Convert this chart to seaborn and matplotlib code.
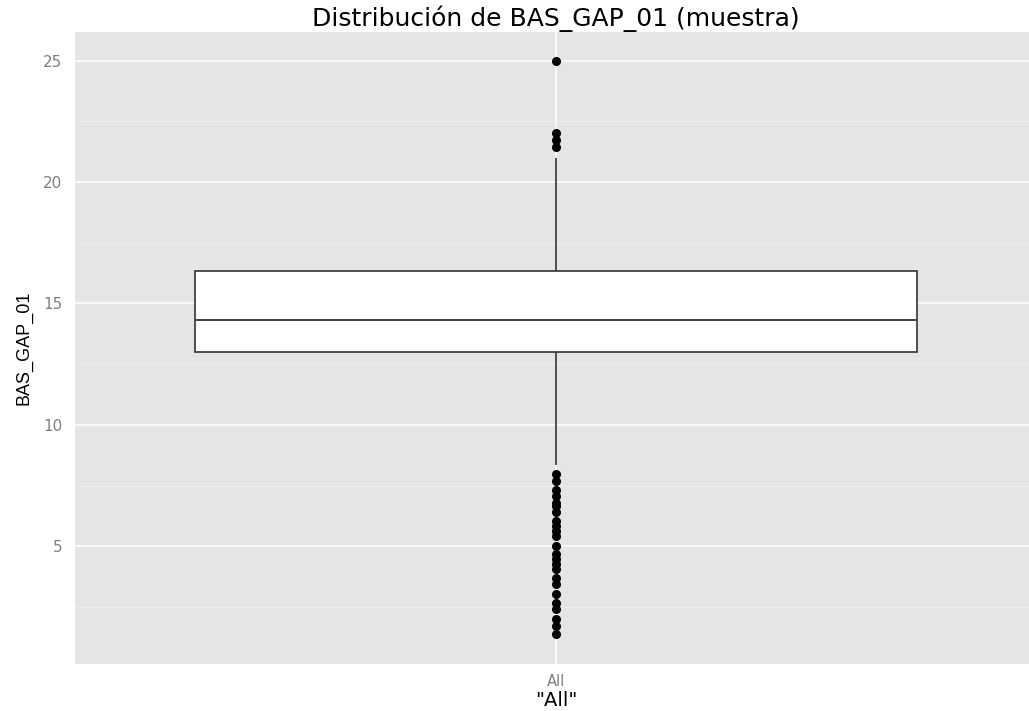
import numpy as np
import pandas as pd
import matplotlib
matplotlib.use("Agg")
import matplotlib.pyplot as plt
import seaborn as sns
from matplotlib.ticker import MultipleLocator

# ---- data (sample values, as a frequency table) ----
low_outliers = [7.97, 7.69, 7.32, 7.07, 6.80, 6.66, 6.39, 6.04, 5.84, 5.63, 5.42, 5.01,
                4.67, 4.47, 4.26, 4.05, 3.71, 3.44, 3.02, 2.68, 2.41, 2.00, 1.72, 1.38]
high_outliers = [21.46, 21.75, 22.02, 25.0]
body_values = [8.33, 9.33, 10.33, 11.33, 12.0, 12.67, 13.0, 13.33, 13.67, 14.0, 14.33,
               14.67, 15.0, 15.33, 15.67, 16.0, 16.33, 16.67, 17.0, 17.33, 17.67, 18.0,
               18.67, 19.33, 20.0, 20.67, 21.0]
body_counts = [1, 1, 1, 1, 2, 3, 10, 8, 10, 12, 14,
               7, 7, 7, 6, 5, 10, 6, 5, 4, 3, 3,
               2, 2, 1, 1, 1]
category = "All"
y_ticks = [5, 10, 15, 20, 25]

values = list(low_outliers) + list(np.repeat(body_values, body_counts)) + list(high_outliers)
df = pd.DataFrame({"grupo": [category] * len(values), "BAS_GAP_01": values})

# ---- figure ----
sns.set_theme(style="darkgrid")
plt.rcParams["font.family"] = ["DejaVu Sans"]

fig = plt.figure(figsize=(10.29, 7.11), dpi=100)
ax = fig.add_axes([75 / 1029, (711 - 664) / 711, (1037 - 75) / 1029, (664 - 32) / 711])
ax.set_facecolor("#E5E5E5")

line_col = "#333333"
sns.boxplot(data=df, x="grupo", y="BAS_GAP_01", ax=ax, width=0.9,
            color="white", linecolor=line_col, linewidth=1.2,
            showcaps=False,
            flierprops=dict(marker="o", markerfacecolor="black", markeredgecolor="black",
                            markersize=5.5),
            medianprops=dict(color=line_col, linewidth=1.3),
            whiskerprops=dict(color=line_col, linewidth=1.2))

ax.set_xlim(-0.6, 0.6)
ax.set_ylim(0.15, 26.18)
ax.set_yticks(y_ticks)
ax.yaxis.set_minor_locator(MultipleLocator(2.5))

ax.grid(True, which="major", color="white", linewidth=1.1)
ax.grid(True, which="minor", axis="y", color="#F2F2F2", linewidth=0.5)
ax.set_axisbelow(True)
for s in ax.spines.values():
    s.set_visible(False)

ax.tick_params(axis="both", which="major", length=5, width=0.8, color="#7F7F7F",
               labelcolor="#7F7F7F", pad=4)
ax.tick_params(axis="y", labelsize=11)
ax.tick_params(axis="x", labelsize=10.5, pad=2)
ax.tick_params(which="minor", length=0)

ax.set_ylabel("BAS_GAP_01", fontsize=13, color="black", family=["Liberation Sans"])
ax.yaxis.set_label_coords(-0.0437, 0.5)
ax.set_xlabel('"All"', fontsize=14, color="black")
ax.xaxis.set_label_coords(0.5, -0.042)

fig.text(556 / 1029, 1 - 19 / 711, "Distribución de BAS_GAP_01 (muestra)",
         ha="center", va="center", fontsize=18, color="black")

fig.savefig("out.png", dpi=100)
